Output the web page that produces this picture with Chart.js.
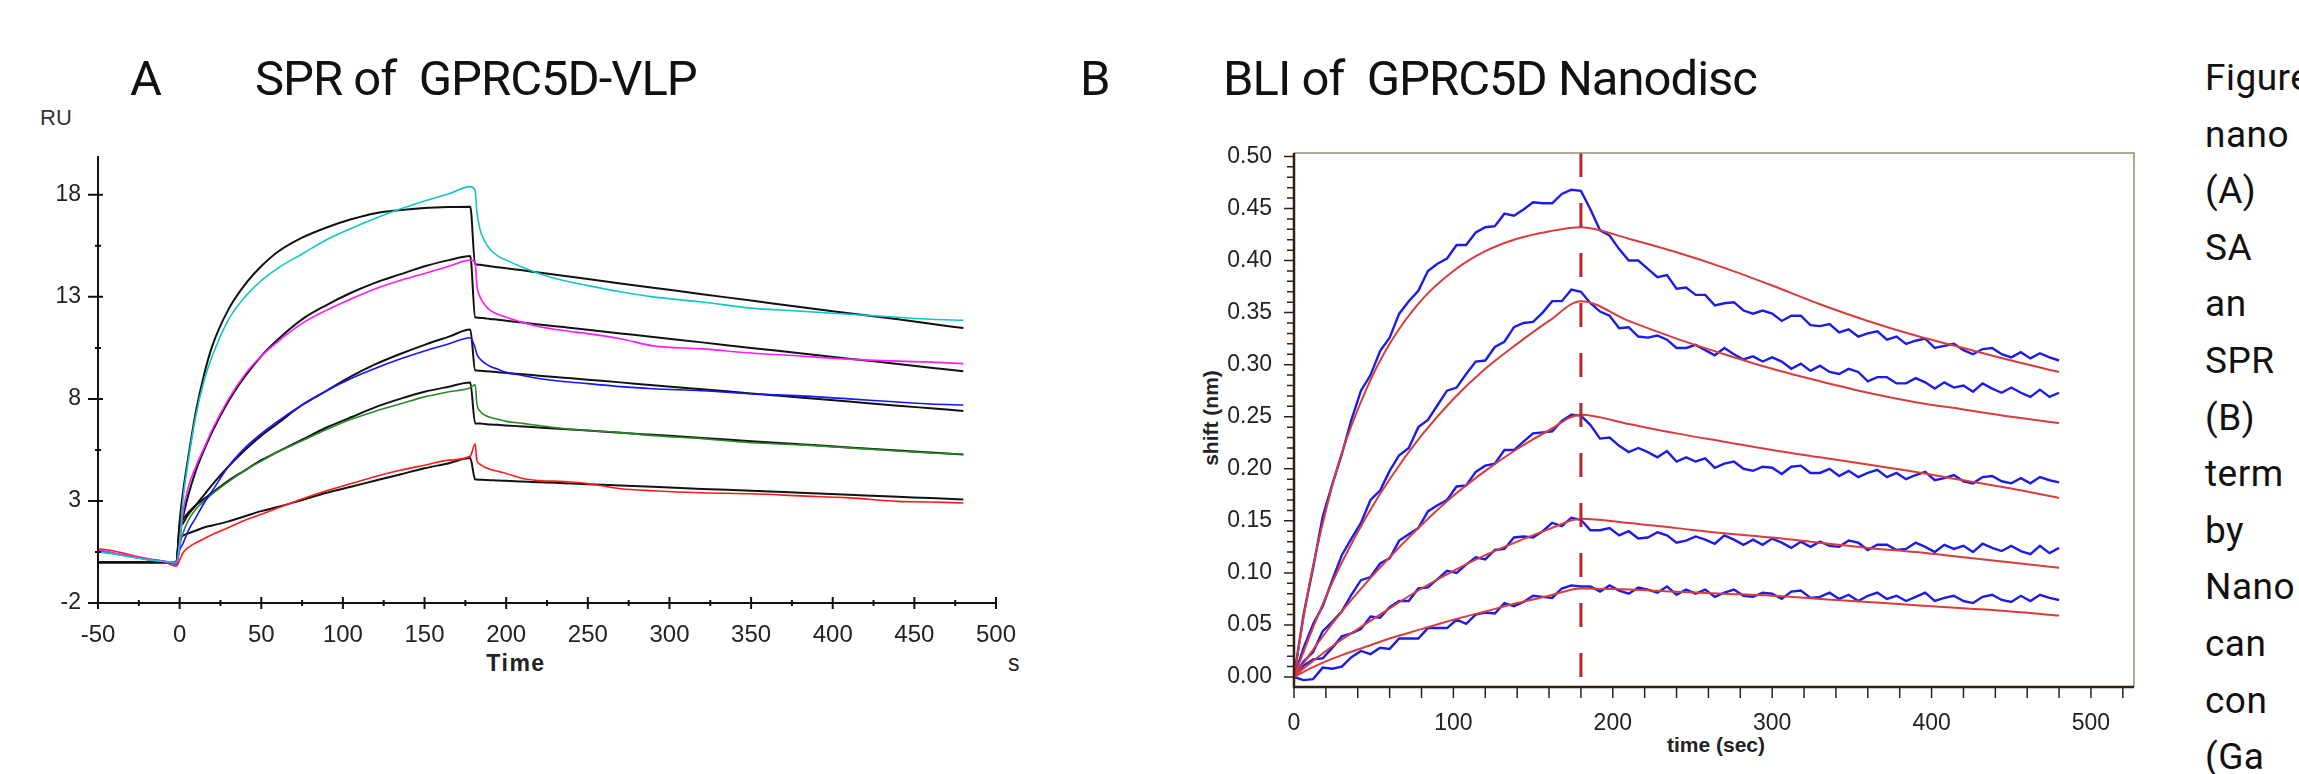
<!DOCTYPE html>
<html>
<head>
<meta charset="utf-8">
<script src="https://cdn.jsdelivr.net/npm/chart.js@4.4.1/dist/chart.umd.min.js"></script>
<style>
  html, body { margin: 0; padding: 0; background: #fff; }
  body { width: 2299px; height: 774px; position: relative; overflow: hidden; font-family: 'Liberation Sans', Arial, sans-serif; }
  .abs { position: absolute; white-space: pre; line-height: 1; }
  .title { font-family: Roboto, 'Liberation Sans', sans-serif; font-size: 49px; color: #111; letter-spacing: -1px; }
  .caption { position: absolute; left: 2205px; top: 50px; font-family: Roboto, 'Liberation Sans', sans-serif; font-size: 37px; line-height: 56.6px; letter-spacing: 0.5px; color: #111; white-space: nowrap; }
  canvas { position: absolute; }
</style>
</head>
<body>

<div class="abs title" style="left:130px; top:54px;">A</div>
<div class="abs title" style="left:255px; top:54px;">SPR of  GPRC5D-VLP</div>
<div class="abs title" style="left:1080px; top:54px;">B</div>
<div class="abs title" style="left:1223px; top:54px;">BLI of  GPRC5D Nanodisc</div>

<div class="abs" style="left:40px; top:107px; font-size:22px; color:#333;">RU</div>
<div class="abs" style="left:516px; top:652px; font-size:23px; font-weight:bold; letter-spacing:1.5px; color:#222; transform:translateX(-50%);">Time</div>
<div class="abs" style="left:1008px; top:652px; font-size:23px; color:#222;">s</div>
<div class="abs" style="left:1716px; top:734px; font-size:21px; font-weight:bold; color:#222; transform:translateX(-50%);">time (sec)</div>
<div class="abs" style="left:1210px; top:418px; font-size:21px; font-weight:bold; color:#222; transform:translate(-50%,-50%) rotate(-90deg);">shift (nm)</div>

<div class="caption">Figure<br>nano<br>(A)<br>SA<br>an<br>SPR<br>(B)<br>term<br>by<br>Nano<br>can<br>con<br>(Ga</div>

<canvas id="spr" width="1100" height="620" style="left:0px; top:100px;"></canvas>
<canvas id="bli" width="1060" height="674" style="left:1130px; top:100px;"></canvas>

<script>
// ---- A: SPR sensorgram (RU vs s) ----
const sprTime = [-50, -40, -30, -20, -10, -2,
  0, 2, 5, 10, 15, 20, 30, 40, 50, 60, 75, 90, 105, 120, 135, 150, 165, 178,
  181, 182, 184, 187, 190, 195, 200, 210, 220, 235, 250, 270, 290, 320, 350, 380, 410, 440, 460, 480];

const sprCyan = [0.5, 0.4, 0.25, 0.12, 0.03, 0.0,
  1.0, 3.0, 4.8, 7.2, 8.9, 10.1, 11.9, 13.0, 13.8, 14.4, 15.1, 15.8, 16.35, 16.85, 17.3, 17.7, 18.05, 18.4,
  18.2, 17.2, 16.3, 15.7, 15.35, 15.0, 14.8, 14.45, 14.15, 13.8, 13.55, 13.25, 13.0, 12.75, 12.45, 12.3, 12.15, 12.0, 11.9, 11.85];
const sprCyanFit = [0, 0, 0, 0, 0, 0,
  2.0, 3.4, 5.0, 7.4, 9.2, 10.6, 12.4, 13.6, 14.5, 15.2, 15.9, 16.4, 16.8, 17.1, 17.25, 17.35, 17.4, 17.42,
  14.6, 14.59, 14.57, 14.54, 14.5, 14.45, 14.4, 14.3, 14.19, 14.03, 13.88, 13.66, 13.45, 13.13, 12.82, 12.5, 12.2, 11.9, 11.68, 11.47];

const sprMagenta = [0.6, 0.45, 0.3, 0.15, 0.05, -0.05,
  0.8, 2.4, 3.6, 4.7, 5.6, 6.5, 8.0, 9.2, 10.1, 10.8, 11.7, 12.35, 12.9, 13.4, 13.8, 14.15, 14.5, 14.8,
  14.7, 13.6, 13.0, 12.6, 12.35, 12.15, 12.0, 11.75, 11.55, 11.35, 11.2, 10.95, 10.6, 10.45, 10.25, 10.1, 9.95, 9.85, 9.8, 9.73];
const sprMagentaFit = [0, 0, 0, 0, 0, 0,
  1.5, 2.2, 3.2, 4.5, 5.5, 6.4, 7.9, 9.1, 10.1, 10.9, 11.9, 12.6, 13.2, 13.7, 14.1, 14.5, 14.8, 15.0,
  12.0, 11.99, 11.97, 11.95, 11.92, 11.88, 11.83, 11.74, 11.65, 11.52, 11.39, 11.21, 11.03, 10.77, 10.5, 10.24, 9.97, 9.71, 9.53, 9.35];

const sprBlue = [0.55, 0.42, 0.28, 0.13, 0.03, -0.1,
  0.6, 0.9, 1.5, 2.2, 2.9, 3.5, 4.7, 5.6, 6.3, 6.9, 7.7, 8.4, 9.0, 9.5, 9.95, 10.35, 10.7, 11.0,
  10.5, 10.2, 9.95, 9.75, 9.6, 9.45, 9.3, 9.15, 9.0, 8.85, 8.75, 8.6, 8.5, 8.4, 8.25, 8.15, 8.0, 7.85, 7.75, 7.7];
const sprBlueFit = [0, 0, 0, 0, 0, 0,
  1.6, 1.9, 2.3, 2.8, 3.3, 3.8, 4.7, 5.5, 6.2, 6.8, 7.7, 8.4, 9.1, 9.7, 10.2, 10.65, 11.05, 11.4,
  9.4, 9.39, 9.38, 9.36, 9.34, 9.31, 9.27, 9.21, 9.14, 9.04, 8.94, 8.81, 8.67, 8.47, 8.27, 8.07, 7.87, 7.67, 7.54, 7.41];

const sprGreen = [0.55, 0.42, 0.28, 0.15, 0.05, 0.0,
  0.8, 1.4, 2.0, 2.6, 3.0, 3.35, 3.95, 4.5, 4.95, 5.4, 5.95, 6.5, 7.0, 7.4, 7.75, 8.1, 8.35, 8.55,
  8.7, 7.8, 7.4, 7.2, 7.1, 7.0, 6.9, 6.8, 6.7, 6.55, 6.45, 6.35, 6.2, 6.05, 5.85, 5.75, 5.6, 5.45, 5.35, 5.3];
const sprGreenFit = [0, 0, 0, 0, 0, 0,
  1.8, 2.1, 2.4, 2.8, 3.1, 3.4, 4.0, 4.5, 5.0, 5.4, 6.0, 6.6, 7.1, 7.6, 8.0, 8.35, 8.6, 8.8,
  6.8, 6.8, 6.79, 6.77, 6.75, 6.73, 6.7, 6.65, 6.6, 6.52, 6.45, 6.34, 6.24, 6.09, 5.93, 5.78, 5.62, 5.47, 5.37, 5.27];

const sprRed = [0.65, 0.55, 0.35, 0.18, 0.05, -0.2,
  0.1, 0.45, 0.7, 0.95, 1.15, 1.35, 1.7, 2.05, 2.35, 2.65, 3.1, 3.5, 3.85, 4.2, 4.5, 4.75, 5.0, 5.2,
  5.8, 5.0, 4.8, 4.65, 4.55, 4.45, 4.35, 4.1, 4.0, 3.95, 3.85, 3.6, 3.5, 3.4, 3.35, 3.25, 3.15, 2.98, 2.95, 2.9];
const sprRedFit = [0, 0, 0, 0, 0, 0,
  1.1, 1.3, 1.4, 1.55, 1.7, 1.8, 2.0, 2.25, 2.5, 2.7, 3.05, 3.4, 3.7, 4.0, 4.3, 4.6, 4.85, 5.1,
  4.05, 4.05, 4.04, 4.03, 4.02, 4.0, 3.99, 3.95, 3.92, 3.87, 3.82, 3.76, 3.69, 3.59, 3.5, 3.4, 3.3, 3.2, 3.14, 3.07];

const sprXTicks = [-50, 0, 50, 100, 150, 200, 250, 300, 350, 400, 450, 500];
const sprXMinor = [-25, 25, 75, 125, 175, 225, 275, 325, 375, 425, 475];
const sprYTicks = [-2, 3, 8, 13, 18];
const sprYMinor = [0.5, 5.5, 10.5, 15.5];

// ---- B: BLI sensorgram (shift nm vs time sec) ----
const bliTime = [0, 6, 12, 18, 24, 30, 36, 42, 48, 54, 60, 66, 72, 78, 84, 90, 96, 102, 108, 114, 120, 126, 132, 138, 144, 150, 156, 162, 168, 174, 180,
  186, 192, 198, 204, 210, 216, 222, 228, 234, 240, 246, 252, 258, 264, 270, 276, 282, 288, 294, 300, 306, 312, 318, 324, 330, 336, 342, 348, 354, 360,
  366, 372, 378, 384, 390, 396, 402, 408, 414, 420, 426, 432, 438, 444, 450, 456, 462, 468, 474, 480];

const bliData1 = [0.000, 0.060, 0.105, 0.154, 0.185, 0.214, 0.247, 0.275, 0.290, 0.313, 0.326, 0.349, 0.361, 0.371, 0.390, 0.397, 0.402, 0.415, 0.415, 0.427, 0.432, 0.433, 0.445, 0.443, 0.449, 0.456, 0.455, 0.455, 0.464, 0.468, 0.467,
  0.449, 0.429, 0.424, 0.411, 0.400, 0.400, 0.392, 0.384, 0.386, 0.373, 0.374, 0.367, 0.367, 0.357, 0.359, 0.360, 0.352, 0.349, 0.352, 0.349, 0.342, 0.347, 0.347, 0.338, 0.337,
  0.339, 0.331, 0.334, 0.327, 0.330, 0.332, 0.324, 0.327, 0.320, 0.323, 0.325, 0.316, 0.318, 0.320, 0.314, 0.310, 0.315, 0.316, 0.310, 0.307, 0.312, 0.306, 0.311, 0.307, 0.304];
const bliData2 = [0.000, 0.028, 0.051, 0.068, 0.093, 0.117, 0.133, 0.148, 0.170, 0.179, 0.198, 0.213, 0.220, 0.240, 0.247, 0.261, 0.275, 0.278, 0.291, 0.303, 0.304, 0.317, 0.322, 0.336, 0.340, 0.341, 0.350, 0.361, 0.361, 0.372, 0.370,
  0.359, 0.351, 0.347, 0.335, 0.336, 0.327, 0.326, 0.328, 0.324, 0.316, 0.316, 0.319, 0.314, 0.309, 0.316, 0.310, 0.305, 0.308, 0.303, 0.307, 0.303, 0.296, 0.301, 0.294, 0.299,
  0.293, 0.291, 0.296, 0.293, 0.284, 0.288, 0.288, 0.282, 0.282, 0.287, 0.283, 0.277, 0.283, 0.278, 0.280, 0.274, 0.282, 0.277, 0.273, 0.278, 0.273, 0.269, 0.276, 0.269, 0.273];
const bliData3 = [0.000, 0.015, 0.024, 0.044, 0.053, 0.063, 0.079, 0.093, 0.096, 0.109, 0.114, 0.131, 0.137, 0.143, 0.159, 0.165, 0.170, 0.183, 0.184, 0.197, 0.203, 0.205, 0.218, 0.218, 0.226, 0.234, 0.235, 0.236, 0.246, 0.252, 0.251,
  0.242, 0.229, 0.230, 0.222, 0.216, 0.220, 0.216, 0.211, 0.217, 0.207, 0.211, 0.207, 0.210, 0.201, 0.205, 0.207, 0.200, 0.198, 0.202, 0.201, 0.195, 0.202, 0.203, 0.196, 0.196,
  0.200, 0.193, 0.198, 0.192, 0.196, 0.199, 0.192, 0.196, 0.190, 0.194, 0.197, 0.189, 0.191, 0.194, 0.188, 0.186, 0.192, 0.193, 0.188, 0.186, 0.191, 0.186, 0.192, 0.189, 0.187];
const bliData4 = [0.000, 0.011, 0.017, 0.018, 0.028, 0.039, 0.042, 0.046, 0.058, 0.057, 0.067, 0.073, 0.073, 0.085, 0.086, 0.094, 0.102, 0.100, 0.108, 0.115, 0.113, 0.122, 0.123, 0.134, 0.135, 0.134, 0.140, 0.148, 0.145, 0.153, 0.151,
  0.141, 0.141, 0.143, 0.136, 0.140, 0.133, 0.134, 0.139, 0.136, 0.129, 0.131, 0.135, 0.132, 0.128, 0.136, 0.132, 0.127, 0.132, 0.127, 0.133, 0.129, 0.124, 0.130, 0.125, 0.130,
  0.126, 0.125, 0.131, 0.129, 0.122, 0.127, 0.127, 0.122, 0.123, 0.129, 0.125, 0.120, 0.127, 0.123, 0.126, 0.120, 0.128, 0.124, 0.121, 0.126, 0.121, 0.118, 0.126, 0.119, 0.124];
const bliData5 = [0.000, -0.003, -0.002, 0.009, 0.008, 0.010, 0.019, 0.025, 0.022, 0.028, 0.027, 0.037, 0.037, 0.037, 0.047, 0.047, 0.047, 0.055, 0.051, 0.060, 0.062, 0.061, 0.071, 0.068, 0.072, 0.078, 0.077, 0.076, 0.085, 0.088, 0.087,
  0.087, 0.082, 0.088, 0.083, 0.080, 0.086, 0.084, 0.081, 0.087, 0.079, 0.084, 0.080, 0.084, 0.077, 0.081, 0.084, 0.078, 0.077, 0.081, 0.080, 0.075, 0.082, 0.083, 0.076, 0.077,
  0.081, 0.075, 0.079, 0.073, 0.078, 0.081, 0.075, 0.078, 0.073, 0.077, 0.081, 0.073, 0.076, 0.078, 0.073, 0.071, 0.077, 0.079, 0.074, 0.072, 0.078, 0.073, 0.079, 0.076, 0.074];

const bliFitTime = [0, 5, 10, 20, 30, 45, 60, 80, 100, 120, 140, 160, 180, 210, 240, 270, 300, 330, 360, 390, 420, 450, 480];
const bliFit1 = [0, 0.048, 0.092, 0.160, 0.215, 0.275, 0.320, 0.362, 0.390, 0.409, 0.421, 0.428, 0.432, 0.421, 0.408, 0.393, 0.376, 0.358, 0.342, 0.328, 0.316, 0.304, 0.293];
const bliFit2 = [0, 0.020, 0.040, 0.077, 0.110, 0.153, 0.190, 0.232, 0.267, 0.296, 0.320, 0.342, 0.361, 0.342, 0.325, 0.310, 0.296, 0.284, 0.273, 0.264, 0.257, 0.250, 0.244];
const bliFit3 = [0, 0.011, 0.022, 0.043, 0.063, 0.090, 0.115, 0.146, 0.174, 0.198, 0.219, 0.237, 0.252, 0.243, 0.234, 0.226, 0.218, 0.211, 0.204, 0.197, 0.189, 0.181, 0.172];
const bliFit4 = [0, 0.007, 0.013, 0.025, 0.036, 0.051, 0.066, 0.085, 0.102, 0.117, 0.130, 0.142, 0.152, 0.148, 0.143, 0.138, 0.134, 0.129, 0.124, 0.120, 0.115, 0.110, 0.105];
const bliFit5 = [0, 0.004, 0.008, 0.015, 0.021, 0.029, 0.037, 0.046, 0.055, 0.063, 0.071, 0.078, 0.085, 0.084, 0.082, 0.080, 0.078, 0.075, 0.072, 0.069, 0.066, 0.063, 0.059];

const bliStepTime = 180;
const bliXTicks = [0, 100, 200, 300, 400, 500];
const bliYTicks = [0.00, 0.05, 0.10, 0.15, 0.20, 0.25, 0.30, 0.35, 0.40, 0.45, 0.50];
const bliXMin = 0, bliXMax = 527, bliYMin = -0.0096, bliYMax = 0.5033;

const toPoints = (xs, ys) => xs.map((x, i) => ({x: x, y: ys[i]}));

const lineSet = (xs, ys, color, width, smooth) => ({
	data: toPoints(xs, ys),
	showLine: true,
	borderColor: color,
	borderWidth: width,
	pointRadius: 0,
	fill: false,
	cubicInterpolationMode: smooth ? 'monotone' : 'default',
	tension: 0
});

const tickFont = size => ({family: "'Liberation Sans', Arial, sans-serif", size: size});

// axis lines + crossing ticks for the SPR panel
const sprAxes = {
	id: 'sprAxes',
	afterDatasetsDraw(chart) {
		const {ctx, chartArea} = chart;
		const x = chart.scales.x, y = chart.scales.y;
		ctx.save();
		ctx.strokeStyle = '#111';
		ctx.lineWidth = 2;
		ctx.beginPath();
		ctx.moveTo(chartArea.left, chartArea.top + 2);
		ctx.lineTo(chartArea.left, chartArea.bottom);
		ctx.lineTo(chartArea.right, chartArea.bottom);
		ctx.stroke();

		ctx.beginPath();
		sprYTicks.forEach(v => {
			const py = y.getPixelForValue(v);
			ctx.moveTo(chartArea.left - 10, py);
			ctx.lineTo(chartArea.left + 5, py);
		});
		sprYMinor.forEach(v => {
			const py = y.getPixelForValue(v);
			ctx.moveTo(chartArea.left - 3, py);
			ctx.lineTo(chartArea.left + 3, py);
		});
		sprXTicks.forEach(v => {
			const px = x.getPixelForValue(v);
			ctx.moveTo(px, chartArea.bottom - 6);
			ctx.lineTo(px, chartArea.bottom + 6);
		});
		sprXMinor.forEach(v => {
			const px = x.getPixelForValue(v);
			ctx.moveTo(px, chartArea.bottom - 3);
			ctx.lineTo(px, chartArea.bottom + 3);
		});
		ctx.stroke();
		ctx.restore();
	}
};

// frame + ticks for the BLI panel
const bliAxes = {
	id: 'bliAxes',
	afterDatasetsDraw(chart) {
		const {ctx, chartArea} = chart;
		const x = chart.scales.x, y = chart.scales.y;
		const {left, right, top, bottom} = chartArea;
		ctx.save();
		ctx.strokeStyle = '#9c8b78';
		ctx.lineWidth = 1.5;
		ctx.beginPath();
		ctx.moveTo(left, top);
		ctx.lineTo(right, top);
		ctx.lineTo(right, bottom);
		ctx.stroke();

		ctx.strokeStyle = '#2b2118';
		ctx.lineWidth = 2.5;
		ctx.beginPath();
		ctx.moveTo(left, top);
		ctx.lineTo(left, bottom);
		ctx.lineTo(right, bottom);
		ctx.stroke();

		ctx.lineWidth = 1.5;
		ctx.beginPath();
		for (let i = 0; i <= 50; i++) {
			const py = y.getPixelForValue(i / 100);
			const len = i % 5 === 0 ? 10 : 7;
			ctx.moveTo(left - len, py);
			ctx.lineTo(left, py);
		}
		for (let t = 0; t <= 520; t += 20) {
			const px = x.getPixelForValue(t);
			ctx.moveTo(px, bottom);
			ctx.lineTo(px, bottom + 11);
		}
		ctx.stroke();
		ctx.restore();
	}
};

new Chart(document.getElementById('spr'), {
	type: 'scatter',
	data: {
		datasets: [
			lineSet(sprTime, sprCyan, '#12c6c6', 1.6, true),
			lineSet(sprTime, sprMagenta, '#ff1aff', 1.6, true),
			lineSet(sprTime, sprBlue, '#1414ff', 1.6, true),
			lineSet(sprTime, sprGreen, '#2a8a2a', 1.6, true),
			lineSet(sprTime, sprRed, '#ff1a1a', 1.6, true),
			lineSet(sprTime, sprCyanFit, '#111', 2, true),
			lineSet(sprTime, sprMagentaFit, '#111', 2, true),
			lineSet(sprTime, sprBlueFit, '#111', 2, true),
			lineSet(sprTime, sprGreenFit, '#111', 2, true),
			lineSet(sprTime, sprRedFit, '#111', 2, true)
		]
	},
	options: {
		responsive: false,
		animation: false,
		devicePixelRatio: 1,
		events: [],
		layout: {padding: {left: 0, top: 54, right: 104, bottom: 57}},
		plugins: {legend: {display: false}, tooltip: {enabled: false}},
		scales: {
			x: {
				type: 'linear', min: -50, max: 500,
				grid: {display: false, drawTicks: false}, border: {display: false},
				afterBuildTicks: s => { s.ticks = sprXTicks.map(v => ({value: v})); },
				afterFit: s => { s.height = 60; },
				ticks: {color: '#222', font: tickFont(24), padding: 18, maxRotation: 0, autoSkip: false}
			},
			y: {
				type: 'linear', min: -2, max: 20,
				grid: {display: false, drawTicks: false}, border: {display: false},
				afterBuildTicks: s => { s.ticks = sprYTicks.map(v => ({value: v})); },
				afterFit: s => { s.width = 98; },
				ticks: {color: '#222', font: tickFont(23), padding: 17, autoSkip: false}
			}
		}
	},
	plugins: [sprAxes]
});

const bliBlue = '#1c1ce6';
const bliRed = '#d83c3c';

new Chart(document.getElementById('bli'), {
	type: 'scatter',
	data: {
		datasets: [
			{
				data: [{x: bliStepTime, y: bliYMax}, {x: bliStepTime, y: bliYMin}],
				showLine: true, borderColor: '#b3282c', borderWidth: 3, borderDash: [24, 26],
				pointRadius: 0, fill: false
			},
			lineSet(bliFitTime, bliFit1, bliRed, 2, true),
			lineSet(bliFitTime, bliFit2, bliRed, 2, true),
			lineSet(bliFitTime, bliFit3, bliRed, 2, true),
			lineSet(bliFitTime, bliFit4, bliRed, 2, true),
			lineSet(bliFitTime, bliFit5, bliRed, 2, true),
			lineSet(bliTime, bliData1, bliBlue, 2.4, false),
			lineSet(bliTime, bliData2, bliBlue, 2.4, false),
			lineSet(bliTime, bliData3, bliBlue, 2.4, false),
			lineSet(bliTime, bliData4, bliBlue, 2.4, false),
			lineSet(bliTime, bliData5, bliBlue, 2.4, false)
		]
	},
	options: {
		responsive: false,
		animation: false,
		devicePixelRatio: 1,
		events: [],
		layout: {padding: {left: 0, top: 53, right: 56, bottom: 7}},
		plugins: {legend: {display: false}, tooltip: {enabled: false}},
		scales: {
			x: {
				type: 'linear', min: bliXMin, max: bliXMax,
				grid: {display: false, drawTicks: false}, border: {display: false},
				afterBuildTicks: s => { s.ticks = bliXTicks.map(v => ({value: v})); },
				afterFit: s => { s.height = 80; },
				ticks: {color: '#222', font: tickFont(23), padding: 23, maxRotation: 0, autoSkip: false}
			},
			y: {
				type: 'linear', min: bliYMin, max: bliYMax,
				grid: {display: false, drawTicks: false}, border: {display: false},
				afterBuildTicks: s => { s.ticks = bliYTicks.map(v => ({value: v})); },
				afterFit: s => { s.width = 164; },
				ticks: {color: '#222', font: tickFont(23), padding: 22, autoSkip: false,
					callback: v => v.toFixed(2)}
			}
		}
	},
	plugins: [bliAxes]
});
</script>
</body>
</html>
